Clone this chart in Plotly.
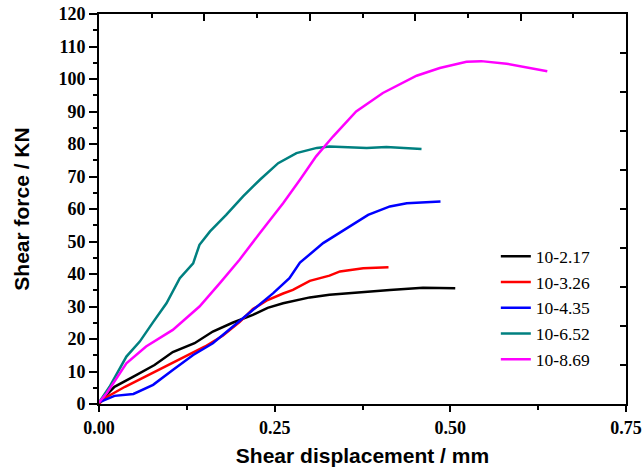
import plotly.graph_objects as go

# ---- data ----
names = ["10-2.17", "10-3.26", "10-4.35", "10-6.52", "10-8.69"]
colors = ["#000000", "#ff0000", "#0000ff", "#008080", "#ff00ff"]

x_217 = [0, 0.022, 0.049, 0.079, 0.105, 0.136, 0.162, 0.19, 0.219, 0.24, 0.262, 0.276, 0.30, 0.328, 0.366, 0.414, 0.461, 0.507]
y_217 = [0.5, 5.3, 8.4, 12, 16.0, 18.7, 22.3, 25, 27.4, 29.6, 31.0, 31.6, 32.8, 33.6, 34.3, 35.1, 35.8, 35.6]

x_326 = [0, 0.008, 0.037, 0.065, 0.094, 0.122, 0.151, 0.176, 0.2, 0.219, 0.24, 0.262, 0.276, 0.30, 0.328, 0.343, 0.376, 0.412]
y_326 = [0, 1.8, 5.3, 8.4, 11.5, 14.6, 17.7, 21.0, 25.2, 29.2, 32.0, 34.0, 35.1, 37.9, 39.5, 40.8, 41.8, 42.1]

x_435 = [0, 0.022, 0.049, 0.077, 0.105, 0.134, 0.162, 0.191, 0.219, 0.248, 0.271, 0.286, 0.319, 0.352, 0.383, 0.414, 0.438, 0.486]
y_435 = [0.5, 2.5, 3.1, 5.9, 10.5, 15.1, 18.7, 23.8, 29.0, 34.1, 38.7, 43.5, 49.5, 54.1, 58.2, 60.8, 61.8, 62.3]

x_652 = [0, 0.015, 0.039, 0.058, 0.077, 0.096, 0.115, 0.134, 0.143, 0.158, 0.181, 0.205, 0.229, 0.255, 0.281, 0.31, 0.328, 0.381, 0.409, 0.459]
y_652 = [0.5, 5.3, 14.6, 19.2, 25.2, 31.0, 38.7, 43.3, 49.0, 53.1, 58.2, 63.9, 69.0, 74.1, 77.2, 78.8, 79.2, 78.8, 79.1, 78.5]

x_869 = [0, 0.011, 0.039, 0.067, 0.105, 0.143, 0.172, 0.2, 0.229, 0.262, 0.286, 0.309, 0.333, 0.366, 0.404, 0.452, 0.485, 0.523, 0.544, 0.58, 0.638]
y_869 = [0.5, 3.3, 12.5, 17.7, 22.8, 30.0, 37.2, 44.4, 52.6, 61.8, 69.0, 76.2, 82.3, 90.0, 95.7, 101.0, 103.4, 105.3, 105.5, 104.7, 102.4]

xs = [x_217, x_326, x_435, x_652, x_869]
ys = [y_217, y_326, y_435, y_652, y_869]

x_ticks = [0.0, 0.25, 0.5, 0.75]
x_ticklabels = ["0.00", "0.25", "0.50", "0.75"]
y_ticks = list(range(0, 121, 10))

fig = go.Figure()
for n, c, x, y in zip(names, colors, xs, ys):
    fig.add_trace(go.Scatter(x=x, y=y, mode="lines", name=n,
                             line=dict(color=c, width=2.5)))
# empty trace so the top/right frame axes get drawn
fig.add_trace(go.Scatter(x=[], y=[], xaxis="x2", yaxis="y2", showlegend=False,
                         hoverinfo="skip"))

SERIF = "Times New Roman"
serif_bold = dict(family=SERIF, size=18, color="black", weight="bold")
fig.update_layout(
    width=642, height=474,
    margin=dict(l=99, r=16, t=14, b=70),
    paper_bgcolor="white", plot_bgcolor="white",
    font=dict(family=SERIF),
    showlegend=True,
    legend=dict(x=0.753, y=0.425, xanchor="left", yanchor="top",
                font=dict(family=SERIF, size=17.5, color="black"),
                bgcolor="rgba(0,0,0,0)", tracegroupgap=0, itemwidth=30),
    xaxis=dict(range=[0, 0.75], tickvals=x_ticks, ticktext=x_ticklabels,
               ticks="outside", ticklen=6, tickwidth=1.5, tickcolor="black",
               minor=dict(dtick=0.125, tick0=0, ticks="outside", ticklen=4, tickwidth=1.5, tickcolor="black"),
               showline=True, linewidth=2, linecolor="black", mirror=False,
               showgrid=False, zeroline=False, tickfont=serif_bold, automargin=False,
               title=dict(text="<b>Shear displacement / mm</b>", standoff=12,
                          font=dict(family="Liberation Sans", size=21, color="black"))),
    yaxis=dict(range=[0, 120], tickvals=y_ticks,
               ticks="outside", ticklen=8, tickwidth=1.5, tickcolor="black",
               minor=dict(dtick=5, tick0=0, ticks="outside", ticklen=4, tickwidth=1.5, tickcolor="black"),
               showline=True, linewidth=2, linecolor="black",
               showgrid=False, zeroline=False, tickfont=serif_bold, automargin=False,
               title=dict(text="<b>Shear force / KN</b>", standoff=23,
                          font=dict(family="Liberation Sans", size=21, color="black"))),
    xaxis2=dict(range=[0, 0.75], overlaying="x", side="top", anchor="y",
                dtick=0.15, tick0=0, ticks="inside", ticklen=7, tickwidth=1.5, tickcolor="black",
                minor=dict(dtick=0.075, tick0=0, ticks="inside", ticklen=4, tickwidth=1.5, tickcolor="black"),
                showticklabels=False, showline=True, linewidth=2, linecolor="black",
                showgrid=False, zeroline=False, automargin=False),
    yaxis2=dict(range=[0, 120], overlaying="y", side="right", anchor="x",
                dtick=12, tick0=0, ticks="inside", ticklen=6, tickwidth=1.5, tickcolor="black",
                showticklabels=False, showline=True, linewidth=2, linecolor="black",
                showgrid=False, zeroline=False, automargin=False),
)

fig.write_html("out.html")
